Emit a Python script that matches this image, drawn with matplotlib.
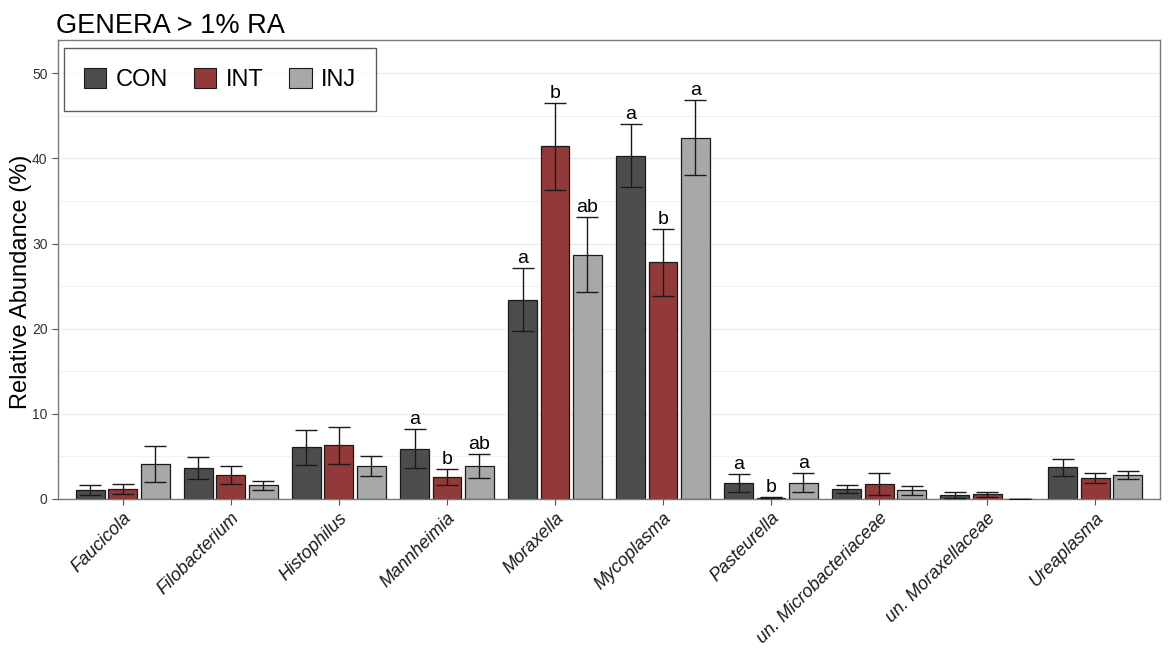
import numpy as np
import matplotlib
matplotlib.use("Agg")
import matplotlib.pyplot as plt
from matplotlib.patches import Patch
from matplotlib.ticker import MultipleLocator

plt.rcParams['font.family'] = ['Liberation Sans', 'DejaVu Sans']

# genera and group means / standard errors (relative abundance, %)
genera = ['Faucicola', 'Filobacterium', 'Histophilus', 'Mannheimia', 'Moraxella',
          'Mycoplasma', 'Pasteurella', 'un. Microbacteriaceae', 'un. Moraxellaceae',
          'Ureaplasma']
groups = ['CON', 'INT', 'INJ']

con_mean = [1.1, 3.6, 6.1, 5.9, 23.4, 40.3, 1.9, 1.2, 0.5, 3.7]
con_se = [0.6, 1.3, 2.05, 2.3, 3.7, 3.7, 1.05, 0.45, 0.35, 1.05]
int_mean = [1.2, 2.8, 6.3, 2.6, 41.4, 27.8, 0.15, 1.8, 0.55, 2.5]
int_se = [0.6, 1.05, 2.15, 0.9, 5.1, 3.95, 0.05, 1.3, 0.3, 0.6]
inj_mean = [4.1, 1.6, 3.9, 3.9, 28.7, 42.4, 1.9, 1.0, 0.05, 2.8]
inj_se = [2.1, 0.5, 1.2, 1.4, 4.4, 4.4, 1.1, 0.55, 0.0, 0.5]

# significance letters (empty = none shown)
con_letters = ['', '', '', 'a', 'a', 'a', 'a', '', '', '']
int_letters = ['', '', '', 'b', 'b', 'b', 'b', '', '', '']
inj_letters = ['', '', '', 'ab', 'ab', 'a', 'a', '', '', '']

colors = ['#4d4d4d', '#923a3a', '#a8a8a8']

means = [con_mean, int_mean, inj_mean]
ses = [con_se, int_se, inj_se]
letters = [con_letters, int_letters, inj_letters]

fig = plt.figure(figsize=(11.7, 6.51), dpi=100)
ax = fig.add_axes([58 / 1170, 1 - 499 / 651, 1102 / 1170, 459 / 651])

x = np.arange(len(genera))
dodge = 0.3
bar_w = 0.8 / 3
for i, g in enumerate(groups):
    xs = x + (i - 1) * dodge
    ax.bar(xs, means[i], width=bar_w, color=colors[i], edgecolor='#1a1a1a',
           linewidth=0.9, zorder=2)
    ax.errorbar(xs, means[i], yerr=ses[i], fmt='none', ecolor='#1a1a1a',
                elinewidth=1.0, capsize=8, capthick=1.0, zorder=3)
    for xx, m, s, lab in zip(xs, means[i], ses[i], letters[i]):
        if lab:
            ax.text(xx, m + s + 0.6, lab, ha='center', va='baseline',
                    fontsize=14, color='black', zorder=4)

ax.set_xlim(-0.6, len(genera) - 0.4)
ax.set_ylim(0, 53.9)
ax.yaxis.set_major_locator(MultipleLocator(10))
ax.yaxis.set_minor_locator(MultipleLocator(5))
ax.grid(axis='y', which='major', color='#ebebeb', linewidth=1.0, zorder=0)
ax.grid(axis='y', which='minor', color='#f2f2f2', linewidth=0.8, zorder=0)
ax.set_axisbelow(True)
ax.tick_params(axis='y', which='minor', length=0)

ax.set_xticks(x)
ax.set_xticklabels(genera, rotation=45, ha='right', rotation_mode='anchor',
                   fontsize=13, style='italic', color='#1a1a1a')
ax.tick_params(axis='both', which='major', length=4, color='#555555', width=0.8)
ax.tick_params(axis='y', labelsize=10, labelcolor='#333333')

for sp in ax.spines.values():
    sp.set_color('#7a7a7a')
    sp.set_linewidth(1.0)

ax.set_ylabel('Relative Abundance (%)', fontsize=17)
ax.yaxis.set_label_coords(-0.024, 0.473)
ax.set_title('GENERA > 1% RA', loc='left', fontsize=19.5, pad=5, x=-0.002)

handles = [Patch(facecolor=c, edgecolor='#1a1a1a', linewidth=0.8) for c in colors]
leg = ax.legend(handles, groups, loc='upper left', bbox_to_anchor=(0.005, 0.983),
                ncol=3, fontsize=17, frameon=True, fancybox=False,
                handlelength=0.95, handleheight=0.95, handletextpad=0.4,
                columnspacing=1.1, borderpad=0.85, borderaxespad=0)
leg.get_frame().set_edgecolor('#333333')
leg.get_frame().set_linewidth(1.0)

fig.savefig('out.png', dpi=100)
